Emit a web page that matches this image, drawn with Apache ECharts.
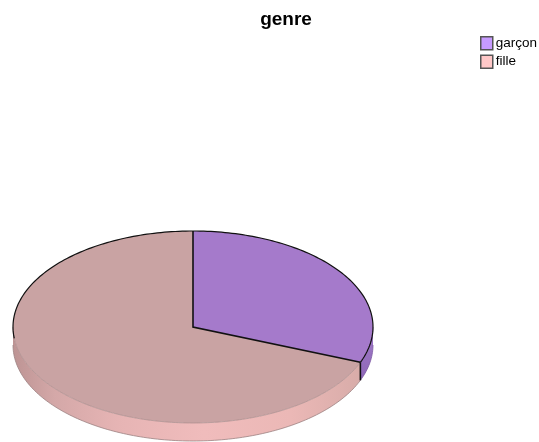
<!DOCTYPE html>
<html>
<head>
<meta charset="utf-8">
<style>html,body{margin:0;padding:0;background:#fff}#chart{width:539px;height:442px}</style>
<script src="https://cdn.jsdelivr.net/npm/echarts@6/dist/echarts.min.js"></script>
</head>
<body>
<div id="chart"></div>
<script>
const categories = ['garçon', 'fille'];
const shares = [31, 69];
const swatchColors = ['#c79bff', '#ffc8c8'];
const topColors = ['#a57acb', '#c9a3a3'];
const floorEdgeColors = ['#7d5aa3', '#9c8282'];
const nearRimColors = ['#8e67b5', '#a98b8b'];

// Tilted disc geometry, in pixels
const disc = { cx: 193, cy: 327, rx: 180, ry: 96, depth: 18 };
const total = shares.reduce((a, b) => a + b, 0);

const rimPoint = (angle, drop) => [
  disc.cx + disc.rx * Math.sin(angle),
  disc.cy - disc.ry * Math.cos(angle) + (drop || 0)
];

function arc(from, to, drop) {
  const n = Math.max(2, Math.ceil((to - from) / 0.02));
  const pts = [];
  for (let i = 0; i <= n; i++) pts.push(rimPoint(from + (to - from) * i / n, drop));
  return pts;
}

// Side wall colours run from shaded at the left edge to bright at the front
const wallFill = [
  new echarts.graphic.LinearGradient(0, 0, 0, 1, [
    { offset: 0, color: '#a17bc8' },
    { offset: 1, color: '#8e67b8' }
  ]),
  new echarts.graphic.LinearGradient(0, 0, 1, 0, [
    { offset: 0, color: '#bd9494' },
    { offset: 0.12, color: '#d4a8a8' },
    { offset: 0.3, color: '#e6b4b4' },
    { offset: 0.55, color: '#f0bcbc' },
    { offset: 0.8, color: '#ebb8b6' },
    { offset: 1, color: '#d8aca9' }
  ])
];

function sliceRenderer(index) {
  const start = shares.slice(0, index).reduce((a, b) => a + b, 0) / total * 2 * Math.PI;
  const end = start + shares[index] / total * 2 * Math.PI;
  return function () {
    const children = [];
    const center = [disc.cx, disc.cy];
    // The wall is only visible on the near half of the rim
    const wallFrom = Math.max(start, Math.PI / 2);
    const wallTo = Math.min(end, Math.PI * 1.5);
    if (wallTo > wallFrom) {
      const upper = arc(wallFrom, wallTo, 0);
      const lower = arc(wallFrom, wallTo, disc.depth);
      children.push({
        type: 'polygon',
        shape: { points: upper.concat(lower.reverse()) },
        style: { fill: wallFill[index], stroke: null }
      });
      children.push({
        type: 'polyline',
        shape: { points: arc(wallFrom, wallTo, disc.depth) },
        style: { fill: null, stroke: floorEdgeColors[index], lineWidth: 0.8 }
      });
    }
    children.push({
      type: 'polygon',
      shape: { points: [center].concat(arc(start, end, 0)) },
      style: { fill: topColors[index], stroke: null }
    });
    // Thin rim along the near edge, black along the far edge
    if (wallTo > wallFrom) {
      children.push({
        type: 'polyline',
        shape: { points: arc(wallFrom, wallTo, 0) },
        style: { fill: null, stroke: nearRimColors[index], lineWidth: 0.7 }
      });
    }
    const farParts = index === 0
      ? [[start, end]]
      : [[Math.PI * 1.5 - 0.12, end]];
    farParts.forEach(function (p) {
      children.push({
        type: 'polyline',
        shape: { points: arc(p[0], p[1], 0) },
        style: { fill: null, stroke: '#111', lineWidth: 1.2 }
      });
    });
    // Cut edges between the slices
    if (index === 0) {
      const edge = rimPoint(end, 0);
      children.push({
        type: 'polyline',
        shape: { points: [rimPoint(start, 0), center, edge] },
        style: { fill: null, stroke: '#111', lineWidth: 1.6 }
      });
      children.push({
        type: 'line',
        shape: { x1: edge[0], y1: edge[1], x2: edge[0], y2: edge[1] + disc.depth },
        style: { stroke: '#111', lineWidth: 1.6 }
      });
    }
    return { type: 'group', children: children };
  };
}

const chart = echarts.init(document.getElementById('chart'), null, { renderer: 'canvas' });
chart.setOption({
  animation: false,
  backgroundColor: '#fff',
  title: {
    text: 'genre',
    left: 281,
    top: 5,
    textAlign: 'center',
    textStyle: { fontFamily: 'Liberation Sans', fontSize: 19, fontWeight: 'bold', color: '#000' }
  },
  legend: {
    left: 480,
    top: 36,
    orient: 'vertical',
    icon: 'rect',
    itemWidth: 12,
    itemHeight: 13,
    itemGap: 4,
    padding: 0,
    data: categories,
    itemStyle: { borderColor: '#555', borderWidth: 1.5 },
    textStyle: { fontFamily: 'Liberation Sans', fontSize: 13.5, color: '#000', padding: [5, 0, 0, -2] },
    selectedMode: false
  },
  series: [1, 0].map(function (i) {
    return {
      type: 'custom',
      name: categories[i],
      coordinateSystem: 'none',
      silent: true,
      itemStyle: { color: swatchColors[i] },
      data: [[shares[i]]],
      renderItem: sliceRenderer(i)
    };
  })
});
</script>
</body>
</html>
